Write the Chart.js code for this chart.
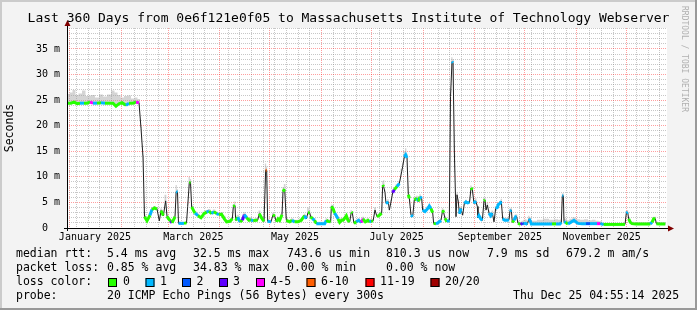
<!DOCTYPE html>
<html>
<head>
<meta charset="utf-8">
<script src="https://cdn.jsdelivr.net/npm/chart.js@4.4.1/dist/chart.umd.min.js"></script>
<style>
  html, body { margin: 0; padding: 0; background: #f3f3f3; }
  #wrap { width: 697px; height: 310px; }
</style>
</head>
<body>
<div id="wrap"><canvas id="smoke" width="697" height="310"></canvas></div>
<script>
// ================================
// DATA
// ================================
// days since the graph start (Dec 30 2024 04:55:14), 360 days shown
const dayOffset = [
  0.6, 2.4, 4.2, 6.0, 7.8, 10.2, 12.0, 13.8, 15.6, 18.0, 20.4, 22.8, 25.2, 27.6, 29.4, 31.2, 33.0, 35.4, 37.2, 39.6, 41.4, 43.2,
  44.4, 45.6, 46.5, 48.0, 49.8, 51.0, 52.5, 54.0, 55.4, 56.4, 57.8, 59.2, 60.0, 60.9, 62.1, 63.0, 64.2, 64.8, 65.5, 66.3, 66.9, 68.4, 70.2, 71.7,
  72.4, 73.4, 74.1, 74.8, 75.8, 76.8, 78.6, 80.4, 82.2, 83.8, 85.2, 86.8, 88.2, 89.7, 91.2, 92.7, 94.4, 95.8, 97.8, 99.2,
  99.8, 100.8, 101.2, 102.4, 103.8, 105.2, 106.4, 107.8, 109.2, 110.4, 111.8, 113.1, 114.4, 115.4, 116.8, 118.2, 119.2, 119.8, 120.4,
  122.4, 123.6, 124.6, 125.6, 126.6, 127.6, 129.0, 129.6, 130.6, 131.6, 133.6, 135.0, 136.6, 138.6, 140.6, 141.6, 142.6, 143.6, 144.6, 145.6,
  146.2, 147.2, 148.6, 149.6, 151.8, 154.6, 155.6, 156.6, 158.2, 158.6, 159.6, 160.6, 161.6, 162.6, 163.6, 164.7, 165.6, 166.6, 167.6, 168.6,
  169.6, 170.6, 171.2, 172.2, 173.6, 175.0, 176.6, 177.6, 179.0, 180.6, 181.6, 182.6,
  183.6, 184.8, 186.0, 187.4, 188.8, 189.4, 190.0, 190.8, 191.4, 192.8, 193.4, 194.4, 195.4, 196.4, 198.0, 199.4, 200.8, 201.4, 202.4, 203.2,
  204.0, 204.8, 205.4, 206.4, 207.4, 208.4, 210.0, 210.9, 211.8, 212.8, 213.4, 214.8, 216.4, 217.4, 218.4, 219.4, 220.0, 221.4, 223.4, 224.4,
  225.4, 226.0, 226.8, 228.0, 229.4, 230.1, 231.0, 231.6, 232.5, 233.4, 234.0, 234.8, 235.4, 236.4, 237.4, 238.4, 239.4, 240.4, 241.5, 242.4,
  243.2, 244.2,
  245.2, 246.2, 246.6, 247.2, 248.2, 249.2, 250.2, 250.8, 251.4, 252.2, 253.2, 254.2, 255.2, 256.2, 257.2, 258.2, 258.8, 259.8, 260.6, 261.4,
  262.6, 264.2, 265.2, 265.8, 266.6, 267.2, 268.2, 269.2, 269.8, 270.6, 272.2, 273.2, 274.2, 275.2, 276.2, 277.2, 277.8, 278.6, 280.2, 283.8,
  287.4, 291.0, 293.4, 295.8, 296.6, 297.2, 297.8, 298.2, 299.2, 300.6, 302.2, 304.2, 305.2, 306.6,
  309.0, 311.4, 313.8, 316.2, 318.0, 320.0, 322.0, 325.8, 329.4, 333.0, 334.8, 335.6, 336.4, 337.0, 338.0, 339.0, 341.4, 345.0, 348.6, 350.0,
  351.0, 352.0, 353.0, 353.6, 355.8, 359.0
];

// median rtt in ms
const medianMs = [
  24.4, 24.4, 24.6, 24.3, 24.4, 24.4, 24.4, 24.6, 24.4, 24.4, 24.5, 24.4, 24.4, 24.4, 23.8, 24.3, 24.5, 24.0, 24.4, 24.4, 24.6, 24.5,
  19.5, 13.9, 2.2, 1.4, 2.5, 3.6, 3.9, 3.7, 1.4, 3.4, 2.4, 5.3, 2.3, 1.8, 1.4, 1.0, 1.8, 2.2, 7.1, 7.0, 0.9, 0.9, 0.9, 1.0,
  4.2, 8.9, 8.9, 4.1, 3.5, 2.9, 2.4, 2.0, 2.8, 3.1, 3.3, 2.8, 3.2, 2.8, 2.6, 2.7, 1.8, 1.2, 1.3, 1.8,
  4.2, 4.4, 1.5, 2.1, 1.2, 1.5, 2.6, 2.0, 1.5, 1.6, 1.4, 1.5, 1.5, 2.8, 1.9, 1.3, 11.3, 11.3, 1.3,
  1.2, 2.6, 2.3, 1.2, 1.8, 1.5, 2.6, 7.1, 7.6, 1.5, 1.2, 1.5, 1.2, 1.2, 1.5, 2.0, 2.4, 1.8, 3.0, 3.0,
  2.2, 1.8, 1.5, 0.85, 0.85, 0.85, 1.5, 1.3, 1.2, 4.2, 3.8, 2.9, 2.4, 1.8, 1.1, 1.5, 1.5, 1.9, 2.4, 1.5,
  1.2, 3.1, 2.9, 0.9, 1.2, 1.5, 1.1, 1.8, 1.2, 1.5, 1.2, 1.4,
  1.3, 3.5, 2.2, 2.5, 2.85, 8.4, 8.1, 6.9, 4.8, 5.1, 3.5, 5.1, 6.9, 7.5, 8.1, 8.7, 11.0, 12.0, 13.9, 14.3,
  13.7, 6.5, 5.8, 2.5, 2.2, 5.5, 5.8, 5.2, 6.1, 5.8, 3.5, 3.2, 3.8, 4.3, 3.8, 3.0, 0.9, 0.8, 1.2, 1.5,
  3.5, 3.0, 1.9, 1.2, 1.5, 25.7, 32.5, 32.3, 13.5, 2.2, 6.5, 5.1, 2.8, 3.8, 2.5, 4.8, 5.1, 4.9, 5.0, 7.8,
  7.5, 4.8,
  5.3, 4.2, 2.0, 2.4, 1.8, 1.5, 5.3, 5.5, 3.5, 4.5, 2.9, 2.4, 2.9, 1.2, 3.8, 4.0, 4.6, 4.8, 5.2, 1.8,
  1.5, 1.5, 1.6, 3.3, 3.5, 1.1, 1.5, 2.2, 2.2, 0.9, 0.7, 0.9, 0.8, 0.9, 0.7, 1.8, 1.5, 0.8, 0.8, 0.8,
  0.8, 0.8, 0.8, 0.8, 1.1, 6.3, 6.3, 1.2, 1.1, 0.8, 1.1, 1.5, 1.2, 0.9,
  0.85, 0.85, 0.85, 0.85, 0.85, 0.85, 0.7, 0.7, 0.7, 0.7, 0.7, 2.9, 3.1, 1.8, 1.1, 0.85, 0.8, 0.8, 0.8, 0.8,
  1.1, 1.8, 1.8, 0.85, 0.8, 0.8
];

// loss color index per sample (0 = no loss ... 7 = 20/20)
const lossIdx = [
  0, 0, 0, 0, 1, 0, 0, 4, 1, 0, 1, 0, 0, 0, 0, 0, 0, 1, 0, 0, 4, 1,
  0, 0, 0, 0, 1, 0, 0, 0, 0, 0, 0, 1, 0, 0, 3, 0, 0, 0, 1, 1, 1, 1, 0, 0,
  1, 0, 0, 0, 0, 1, 0, 0, 0, 1, 0, 1, 0, 1, 0, 0, 0, 0, 0, 0,
  0, 0, 0, 1, 0, 3, 1, 0, 0, 1, 0, 0, 0, 0, 0, 0, 5, 5, 1,
  1, 0, 0, 0, 0, 0, 0, 0, 1, 0, 0, 1, 0, 0, 0, 0, 1, 0, 0, 1,
  0, 1, 0, 1, 1, 1, 0, 0, 0, 0, 0, 1, 1, 0, 0, 0, 0, 0, 0, 0,
  0, 0, 0, 0, 1, 1, 4, 0, 0, 0, 1, 0,
  0, 1, 0, 0, 0, 0, 0, 1, 1, 0, 1, 0, 3, 0, 1, 0, 1, 1, 1, 1,
  1, 0, 1, 1, 1, 0, 1, 0, 1, 0, 1, 1, 1, 1, 0, 1, 0, 1, 1, 0,
  0, 3, 0, 1, 0, 1, 1, 1, 1, 1, 0, 1, 1, 0, 1, 1, 1, 1, 1, 0,
  0, 1,
  1, 1, 1, 1, 1, 1, 0, 5, 1, 1, 1, 1, 1, 1, 1, 1, 1, 1, 1, 1,
  1, 1, 1, 1, 1, 0, 1, 1, 1, 0, 3, 2, 1, 1, 1, 1, 1, 1, 1, 1,
  1, 0, 1, 1, 1, 1, 1, 1, 0, 1, 1, 1, 1, 1,
  1, 2, 1, 1, 4, 1, 0, 0, 0, 0, 0, 1, 1, 0, 0, 0, 0, 0, 0, 1,
  0, 0, 0, 0, 0, 0
];

// top of the smoke (slowest pings) in ms
const smokeMaxMs = [
  26.2, 26.5, 27.0, 26.0, 26.3, 26.9, 25.8, 25.9, 26.0, 25.5, 26.1, 25.7, 26.1, 26.9, 26.5, 26.0, 25.5, 25.8, 25.9, 25.3, 25.5, 25.2,
  19.8, 14.2, 2.6, 1.8, 2.9, 4.0, 4.3, 4.1, 1.8, 3.8, 2.8, 6.5, 2.6, 2.2, 1.8, 1.4, 2.1, 2.6, 8.4, 7.6, 1.3, 1.2, 1.2, 1.3,
  4.6, 10.0, 9.6, 4.5, 3.9, 3.3, 2.8, 2.4, 3.2, 3.5, 3.7, 3.2, 3.6, 3.2, 3.0, 3.1, 2.4, 1.6, 1.7, 2.2,
  4.7, 5.2, 1.9, 2.6, 1.6, 2.0, 3.1, 2.4, 2.0, 2.1, 1.8, 1.9, 2.0, 3.4, 2.3, 1.7, 12.6, 12.0, 1.7,
  1.6, 3.0, 2.7, 1.6, 2.2, 1.9, 3.0, 8.0, 8.6, 1.9, 1.6, 1.9, 1.6, 1.6, 1.9, 2.4, 2.8, 2.2, 4.0, 3.6,
  2.6, 2.2, 1.9, 1.2, 1.2, 1.2, 1.9, 1.7, 1.6, 4.6, 4.5, 3.3, 2.8, 2.2, 1.5, 2.0, 2.0, 2.4, 2.8, 2.0,
  1.6, 3.5, 3.3, 1.3, 1.6, 1.9, 1.5, 2.2, 1.6, 1.9, 1.6, 1.8,
  1.7, 4.0, 2.6, 2.9, 3.3, 9.2, 9.4, 7.5, 5.3, 5.6, 3.9, 5.5, 7.3, 7.9, 8.6, 9.2, 11.6, 12.8, 15.0, 15.6,
  14.5, 7.0, 6.3, 2.9, 2.6, 6.0, 6.3, 5.6, 6.6, 6.2, 3.9, 3.6, 4.2, 4.8, 4.2, 3.4, 1.2, 1.1, 1.5, 1.9,
  3.9, 3.4, 2.3, 1.6, 1.9, 26.5, 33.4, 33.0, 14.6, 2.6, 7.0, 5.5, 3.2, 4.2, 2.9, 5.2, 5.5, 5.3, 5.4, 8.3,
  8.0, 5.3,
  5.8, 4.7, 2.5, 2.9, 2.3, 1.9, 5.8, 6.0, 4.0, 5.0, 3.4, 2.9, 3.4, 1.7, 4.3, 4.5, 5.1, 5.3, 5.7, 2.3,
  2.0, 2.0, 2.1, 3.8, 4.0, 1.6, 2.0, 2.7, 2.7, 1.4, 1.2, 1.4, 1.6, 1.7, 1.5, 2.4, 2.1, 1.4, 1.4, 1.6,
  1.8, 1.6, 1.7, 1.6, 1.8, 6.8, 6.8, 1.9, 1.8, 1.5, 1.8, 2.1, 1.9, 1.7,
  1.6, 1.7, 1.5, 1.6, 1.4, 1.3, 1.0, 1.0, 1.0, 1.0, 1.0, 3.3, 3.5, 2.2, 1.5, 1.2, 1.1, 1.1, 1.1, 1.1,
  1.5, 2.2, 2.2, 1.2, 1.1, 1.1
];

// axis ticks
const yMajorMs = [0, 5, 10, 15, 20, 25, 30, 35];
const yMajorLabels = ["0  ", "5 m", "10 m", "15 m", "20 m", "25 m", "30 m", "35 m"];
const monthLabels = ["January 2025", "March 2025", "May 2025", "July 2025", "September 2025", "November 2025"];
const monthLabelIdx = [0, 2, 4, 6, 8, 10];   // month of 2025 each label belongs to

// legend texts
const lossColors = ["#26ff00", "#00b8ff", "#0059ff", "#5e00ff", "#ff00ff", "#ff5e00", "#ff0000", "#a00000"];
const lossLabels = ["0", "1", "2", "3", "4-5", "6-10", "11-19", "20/20"];
const rttStats = ["5.4 ms avg", "32.5 ms max", "743.6 us min", "810.3 us now", "7.9 ms sd", "679.2 m am/s"];
const lossStats = ["0.85 % avg", "34.83 % max", "0.00 % min", "0.00 % now"];
const titleText = "Last 360 Days from 0e6f121e0f05 to Massachusetts Institute of Technology Webserver";
const probeText = "20 ICMP Echo Pings (56 Bytes) every 300s";
const stampText = "Thu Dec 25 04:55:14 2025";


// ================================
// TIME GRID (calendar -> day offsets)
// ================================
const DAY = 86400000;
const START = Date.UTC(2024, 11, 30, 4, 55, 14);
const SPAN = 360;
const toDay = t => (t - START) / DAY;

const monthDays = [];
for (let m = 0; m < 12; m++) monthDays.push(toDay(Date.UTC(2025, m, 1)));

// weekly minor lines, skipping those that would sit next to a month line
const weekDays = [];
for (let t = Date.UTC(2025, 0, 5); toDay(t) < SPAN; t += 7 * DAY) {
  const d = toDay(t);
  if (monthDays.every(md => Math.abs(md - d) > 2.5)) weekDays.push(d);
}

// month labels sit half a month after the month start, like rrdtool
const labelDays = monthLabelIdx.map(m => toDay(Date.UTC(2025, m, 1)) + 15);

const yMinorMs = [];
for (let v = 1; v < 40; v++) if (v % 5 !== 0) yMinorMs.push(v);


// ================================
// STYLE
// ================================
const MONO = "'DejaVu Sans Mono', monospace";
const RED_GRID = "rgba(255,0,0,0.38)";
const GRAY_GRID = "rgba(130,130,130,0.45)";

const points = arr => dayOffset.map((d, i) => ({ x: d, y: arr[i] }));

function isSteep(ctx) {
  const dx = Math.abs(ctx.p1.x - ctx.p0.x);
  const dy = Math.abs(ctx.p1.y - ctx.p0.y);
  return dy > 2 * dx + 2;
}


// ================================
// DECORATION PLUGIN (frame, axes, texts)
// ================================
const rrdDecor = {
  id: "rrdDecor",
  beforeDraw(chart) {
    const { ctx, chartArea: a, width, height } = chart;
    ctx.save();
    ctx.fillStyle = "#f3f3f3";
    ctx.fillRect(0, 0, width, height);
    // 3d frame
    ctx.fillStyle = "#cbcbcb";
    ctx.fillRect(0, 0, width, 2);
    ctx.fillRect(0, 0, 2, height);
    ctx.fillStyle = "#999999";
    ctx.fillRect(0, height - 2, width, 2);
    ctx.fillRect(width - 2, 0, 2, height);
    // canvas
    ctx.fillStyle = "#ffffff";
    ctx.fillRect(a.left, a.top, a.right - a.left, a.bottom - a.top);
    ctx.restore();
  },
  afterDraw(chart) {
    const { ctx, chartArea: a } = chart;
    ctx.save();

    // axes
    ctx.strokeStyle = "#000000";
    ctx.lineWidth = 1;
    ctx.beginPath();
    ctx.moveTo(a.left - 3, a.bottom + 0.5);
    ctx.lineTo(a.right + 1, a.bottom + 0.5);
    ctx.moveTo(a.left + 0.5, a.bottom + 3);
    ctx.lineTo(a.left + 0.5, a.top - 2);
    ctx.stroke();

    // arrows
    ctx.fillStyle = "#800000";
    ctx.beginPath();
    ctx.moveTo(a.right + 1, a.bottom - 2.5);
    ctx.lineTo(a.right + 7, a.bottom + 0.5);
    ctx.lineTo(a.right + 1, a.bottom + 3.5);
    ctx.closePath();
    ctx.fill();
    ctx.beginPath();
    ctx.moveTo(a.left - 2.5, a.top - 2);
    ctx.lineTo(a.left + 0.5, a.top - 8);
    ctx.lineTo(a.left + 3.5, a.top - 2);
    ctx.closePath();
    ctx.fill();

    // title
    ctx.fillStyle = "#000000";
    ctx.font = "13px " + MONO;
    ctx.textAlign = "center";
    ctx.textBaseline = "middle";
    ctx.fillText(titleText, chart.width / 2, 19);

    // vertical axis label
    ctx.font = "11.5px " + MONO;
    ctx.save();
    ctx.translate(10, (a.top + a.bottom) / 2);
    ctx.rotate(-Math.PI / 2);
    ctx.fillText("Seconds", 0, 0);
    ctx.restore();

    // watermark
    ctx.save();
    ctx.fillStyle = "#b0b0b0";
    ctx.font = "8px " + MONO;
    ctx.textAlign = "left";
    ctx.translate(684, 6);
    ctx.rotate(Math.PI / 2);
    ctx.fillText("RRDTOOL / TOBI OETIKER", 0, 0);
    ctx.restore();

    // legend rows
    const col = [107, 193, 287, 386, 487, 566];
    ctx.font = "11.5px " + MONO;
    ctx.textAlign = "left";
    ctx.fillStyle = "#000000";

    ctx.fillText("median rtt:", 16, 254);
    rttStats.forEach((s, i) => ctx.fillText(s, col[i], 254));

    ctx.fillText("packet loss:", 16, 268);
    lossStats.forEach((s, i) => ctx.fillText(s, col[i], 268));

    ctx.fillText("loss color:", 16, 282);
    const boxX = [108, 145.5, 182, 219, 256, 306.5, 365.5, 430.5];
    const textX = [123, 160, 196.5, 233, 270.5, 321, 380, 445];
    lossLabels.forEach((lab, i) => {
      ctx.fillStyle = lossColors[i];
      ctx.fillRect(boxX[i], 278, 9, 9);
      ctx.strokeStyle = "#000000";
      ctx.strokeRect(boxX[i] + 0.5, 278.5, 8, 8);
      ctx.fillStyle = "#000000";
      ctx.fillText(lab, textX[i], 282);
    });

    ctx.fillText("probe:", 16, 296);
    ctx.fillText(probeText, 107, 296);
    ctx.fillText(stampText, 513, 296);

    ctx.restore();
  }
};


// ================================
// BUILD CHART
// ================================
new Chart(document.getElementById("smoke"), {
  type: "line",
  data: {
    datasets: [
      {
        label: "median",
        data: points(medianMs),
        borderColor: "#202020",
        borderWidth: 1,
        pointRadius: 0,
        tension: 0,
        order: 1
      },
      {
        label: "smoke",
        data: points(smokeMaxMs),
        borderWidth: 0,
        borderColor: "rgba(0,0,0,0)",
        backgroundColor: "rgba(160,160,160,0.45)",
        pointRadius: 0,
        stepped: "middle",
        fill: 0,
        order: 2
      },
      {
        label: "loss",
        data: points(medianMs),
        borderWidth: 3,
        borderCapStyle: "butt",
        pointRadius: 0,
        tension: 0,
        order: 0,
        segment: {
          borderColor: ctx => isSteep(ctx) ? "rgba(0,0,0,0)" : lossColors[lossIdx[ctx.p0DataIndex]]
        }
      }
    ]
  },
  options: {
    responsive: false,
    animation: false,
    devicePixelRatio: 1,
    layout: { padding: { left: 0, right: 30, top: 28, bottom: 62 } },
    plugins: { legend: { display: false }, tooltip: { enabled: false }, title: { display: false } },
    scales: {
      x: {
        type: "linear", position: "bottom", min: 0, max: SPAN,
        afterBuildTicks: s => { s.ticks = labelDays.map(v => ({ value: v })); },
        afterFit: s => { s.height = 20; },
        ticks: {
          autoSkip: false, maxRotation: 0, padding: 3, color: "#000000",
          font: { family: MONO, size: 10 },
          callback: v => monthLabels[labelDays.indexOf(v)]
        },
        grid: { display: false, drawTicks: false },
        border: { display: false }
      },
      xWeek: {
        type: "linear", position: "top", min: 0, max: SPAN,
        afterBuildTicks: s => { s.ticks = weekDays.map(v => ({ value: v })); },
        afterFit: s => { s.height = 0; },
        ticks: { display: false },
        grid: { color: GRAY_GRID, drawTicks: false },
        border: { display: false, dash: [1, 1] }
      },
      xMonth: {
        type: "linear", position: "top", min: 0, max: SPAN,
        afterBuildTicks: s => { s.ticks = monthDays.map(v => ({ value: v })); },
        afterFit: s => { s.height = 0; },
        ticks: { display: false },
        grid: { color: RED_GRID, drawTicks: false },
        border: { display: false, dash: [1, 1] }
      },
      yMinor: {
        type: "linear", position: "left", min: 0, max: 39.1,
        afterBuildTicks: s => { s.ticks = yMinorMs.map(v => ({ value: v })); },
        afterFit: s => { s.width = 0; },
        ticks: { display: false },
        grid: { color: GRAY_GRID, drawTicks: false },
        border: { display: false, dash: [1, 1] }
      },
      y: {
        type: "linear", position: "left", min: 0, max: 39.1,
        afterBuildTicks: s => { s.ticks = yMajorMs.map(v => ({ value: v })); },
        afterFit: s => { s.width = 67; },
        ticks: {
          padding: 7, color: "#000000",
          font: { family: MONO, size: 10 },
          callback: v => yMajorLabels[yMajorMs.indexOf(v)]
        },
        grid: { color: RED_GRID, drawTicks: false },
        border: { display: false, dash: [1, 1] }
      }
    }
  },
  plugins: [rrdDecor]
});
</script>
</body>
</html>
